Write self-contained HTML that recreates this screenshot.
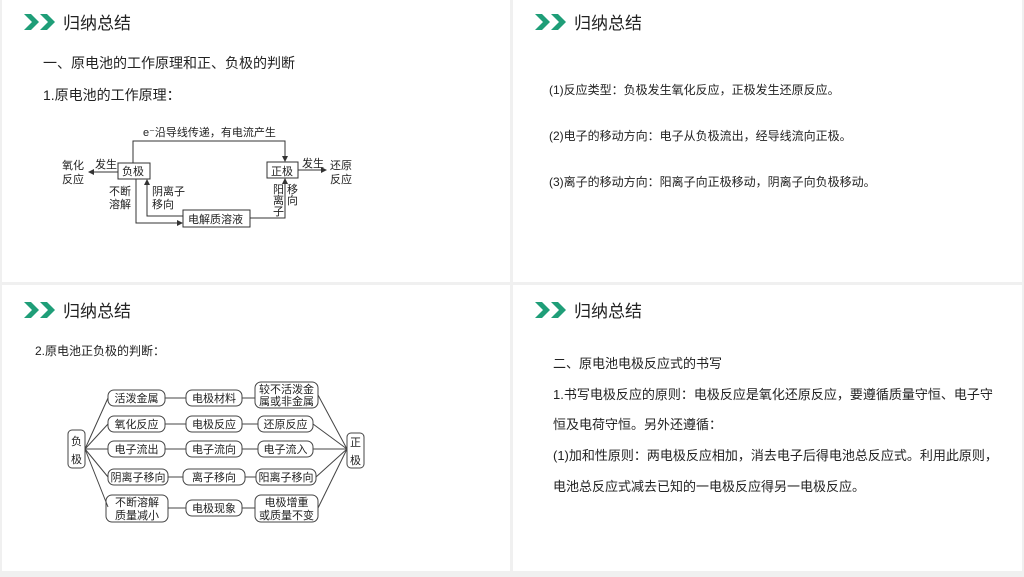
<!DOCTYPE html>
<html><head><meta charset="utf-8"><style>
body{margin:0;background:#fff;}
svg{display:block;font-family:"Liberation Sans","Noto Sans CJK SC",sans-serif;}
</style></head><body>
<svg width="1024" height="577" viewBox="0 0 1024 577" xmlns="http://www.w3.org/2000/svg">
<defs>
<marker id="a" markerWidth="6" markerHeight="6" refX="5" refY="3" orient="auto" markerUnits="userSpaceOnUse"><path d="M0,0 L6,3 L0,6 z" fill="#333"/></marker>
<g id="chev"><path d="M0,0 h7 l8,8 l-8,8 h-7 l8,-8 z" fill="#1f9e78"/><path d="M16,0 h7 l8,8 l-8,8 h-7 l8,-8 z" fill="#1f9e78"/></g>
</defs>
<rect x="0" y="0" width="1024" height="577" fill="#f0f0f0"/>
<rect x="2" y="0" width="508" height="282" fill="#fff"/>
<rect x="513" y="0" width="509" height="282" fill="#fff"/>
<rect x="2" y="285" width="508" height="286" fill="#fff"/>
<rect x="513" y="285" width="509" height="286" fill="#fff"/>
<use href="#chev" x="24" y="14"/><use href="#chev" x="535" y="14"/>
<use href="#chev" x="24" y="302"/><use href="#chev" x="535" y="302"/>
<g font-size="17" fill="#222">
<text x="63" y="29">归纳总结</text><text x="574" y="29">归纳总结</text>
<text x="63" y="317">归纳总结</text><text x="574" y="317">归纳总结</text>
</g>
<g font-size="14" fill="#222">
<text x="43" y="68">一、原电池的工作原理和正、负极的判断</text>
<text x="43" y="100">1.原电池的工作原理：</text>
</g>
<g font-size="12" fill="#222">
<text x="549" y="94">(1)反应类型：负极发生氧化反应，正极发生还原反应。</text>
<text x="549" y="140">(2)电子的移动方向：电子从负极流出，经导线流向正极。</text>
<text x="549" y="186">(3)离子的移动方向：阳离子向正极移动，阴离子向负极移动。</text>
<text x="35" y="355">2.原电池正负极的判断：</text>
</g>
<g font-size="13" fill="#222">
<text x="553" y="368">二、原电池电极反应式的书写</text>
<text x="553" y="399">1.书写电极反应的原则：电极反应是氧化还原反应，要遵循质量守恒、电子守</text>
<text x="553" y="429">恒及电荷守恒。另外还遵循：</text>
<text x="553" y="460">(1)加和性原则：两电极反应相加，消去电子后得电池总反应式。利用此原则，</text>
<text x="553" y="491">电池总反应式减去已知的一电极反应得另一电极反应。</text>
</g>
<!-- diagram 1 -->
<g stroke="#333" stroke-width="1" fill="none">
<rect x="118" y="163" width="32" height="16"/>
<rect x="267" y="162" width="31" height="16"/>
<rect x="183" y="210" width="67" height="17"/>
<polyline points="133,163 133,141 285,141 285,161" marker-end="url(#a)"/>
<polyline points="136,179 136,223 182,223" marker-end="url(#a)"/>
<polyline points="183,216 147,216 147,180" marker-end="url(#a)"/>
<polyline points="250,218 285,218 285,179" marker-end="url(#a)"/>
<line x1="118" y1="172" x2="89" y2="172" marker-end="url(#a)"/>
<line x1="298" y1="170" x2="326" y2="170" marker-end="url(#a)"/>
</g>
<g font-size="11" fill="#222">
<text x="143" y="136">e⁻沿导线传递，有电流产生</text>
<text x="122" y="175">负极</text><text x="271" y="175">正极</text>
<text x="188" y="223">电解质溶液</text>
<text x="95" y="168">发生</text><text x="302" y="167">发生</text>
<text x="62" y="169">氧化</text><text x="62" y="183">反应</text>
<text x="330" y="169">还原</text><text x="330" y="183">反应</text>
<text x="109" y="195">不断</text><text x="109" y="208">溶解</text>
<text x="152" y="195">阴离子</text><text x="152" y="208">移向</text>
<text x="273" y="193">阳</text><text x="273" y="204">离</text><text x="273" y="215">子</text>
<text x="287" y="193">移</text><text x="287" y="204">向</text>
</g>
<!-- diagram 2 -->
<g stroke="#444" stroke-width="1" fill="none">
<line x1="85" y1="449" x2="108" y2="398"/><line x1="85" y1="449" x2="108" y2="424"/>
<line x1="85" y1="449" x2="108" y2="449"/><line x1="85" y1="449" x2="108" y2="477"/>
<line x1="85" y1="449" x2="108" y2="507"/>
<line x1="318" y1="395" x2="347" y2="449"/><line x1="313" y1="424" x2="347" y2="449"/>
<line x1="313" y1="449" x2="347" y2="449"/><line x1="316" y1="477" x2="347" y2="449"/>
<line x1="318" y1="508" x2="347" y2="449"/>
<line x1="165" y1="398" x2="186" y2="398"/><line x1="242" y1="398" x2="255" y2="398"/>
<line x1="165" y1="424" x2="186" y2="424"/><line x1="242" y1="424" x2="258" y2="424"/>
<line x1="165" y1="449" x2="186" y2="449"/><line x1="242" y1="449" x2="258" y2="449"/>
<line x1="168" y1="477" x2="183" y2="477"/><line x1="245" y1="477" x2="256" y2="477"/>
<line x1="168" y1="508" x2="186" y2="508"/><line x1="242" y1="508" x2="255" y2="508"/>
<rect x="68" y="430" width="17" height="38" rx="4"/>
<rect x="347" y="433" width="17" height="35" rx="4"/>
<rect x="108" y="390" width="57" height="16" rx="6"/>
<rect x="108" y="416" width="57" height="16" rx="6"/>
<rect x="108" y="441" width="57" height="16" rx="6"/>
<rect x="108" y="469" width="60" height="16" rx="6"/>
<rect x="106" y="495" width="62" height="27" rx="6"/>
<rect x="186" y="390" width="56" height="16" rx="6"/>
<rect x="186" y="416" width="56" height="16" rx="6"/>
<rect x="186" y="441" width="56" height="16" rx="6"/>
<rect x="183" y="469" width="62" height="16" rx="6"/>
<rect x="186" y="500" width="56" height="16" rx="6"/>
<rect x="255" y="382" width="63" height="26" rx="6"/>
<rect x="258" y="416" width="55" height="16" rx="6"/>
<rect x="258" y="441" width="55" height="16" rx="6"/>
<rect x="256" y="469" width="60" height="16" rx="6"/>
<rect x="255" y="495" width="63" height="27" rx="6"/>
</g>
<g font-size="11" fill="#222" text-anchor="middle">
<text x="76.5" y="445">负</text><text x="76.5" y="463">极</text>
<text x="355.5" y="446">正</text><text x="355.5" y="464">极</text>
<text x="136.5" y="402">活泼金属</text><text x="136.5" y="428">氧化反应</text>
<text x="136.5" y="453">电子流出</text><text x="138" y="481">阴离子移向</text>
<text x="137" y="506">不断溶解</text><text x="137" y="519">质量减小</text>
<text x="214" y="402">电极材料</text><text x="214" y="428">电极反应</text>
<text x="214" y="453">电子流向</text><text x="214" y="481">离子移向</text>
<text x="214" y="512">电极现象</text>
<text x="286.5" y="393">较不活泼金</text><text x="286.5" y="405">属或非金属</text>
<text x="285.5" y="428">还原反应</text><text x="285.5" y="453">电子流入</text>
<text x="286" y="481">阳离子移向</text>
<text x="286.5" y="506">电极增重</text><text x="286.5" y="519">或质量不变</text>
</g>
</svg>
</body></html>
